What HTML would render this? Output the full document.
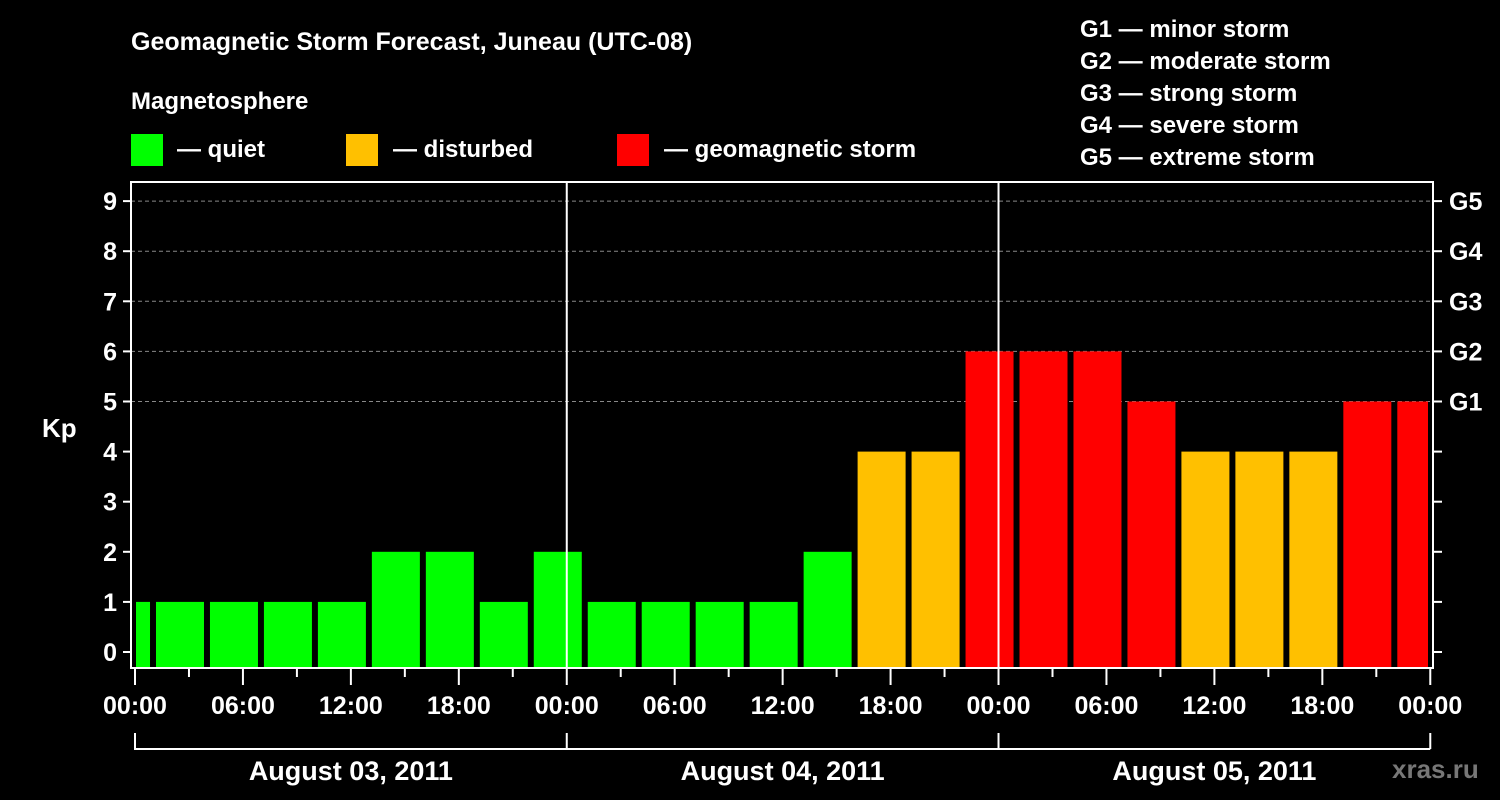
<!DOCTYPE html>
<html><head><meta charset="utf-8"><style>
html,body{margin:0;padding:0;background:#000;}
svg{display:block;font-family:"Liberation Sans",Arial,sans-serif;font-weight:bold;}
</style></head><body>
<svg id="chart" width="1500" height="800" viewBox="0 0 1500 800" xmlns="http://www.w3.org/2000/svg">
<rect width="1500" height="800" fill="#000"/>
<text x="131" y="50" fill="#fff" font-size="25">Geomagnetic Storm Forecast, Juneau (UTC-08)</text>
<text x="131" y="109" fill="#fff" font-size="24">Magnetosphere</text>
<g><rect x="131" y="134" width="32" height="32" fill="#00ff00"/><text x="177" y="157" fill="#fff" font-size="24">— quiet</text></g>
<g><rect x="346" y="134" width="32" height="32" fill="#ffc000"/><text x="393" y="157" fill="#fff" font-size="24">— disturbed</text></g>
<g><rect x="617" y="134" width="32" height="32" fill="#ff0000"/><text x="664" y="157" fill="#fff" font-size="24">— geomagnetic storm</text></g>
<g fill="#fff" font-size="24">
<text x="1080" y="37">G1 — minor storm</text>
<text x="1080" y="69">G2 — moderate storm</text>
<text x="1080" y="101">G3 — strong storm</text>
<text x="1080" y="133">G4 — severe storm</text>
<text x="1080" y="165">G5 — extreme storm</text>
</g>
<text x="42" y="437" fill="#fff" font-size="26">Kp</text>
<text x="1392" y="778" fill="#777" font-size="26">xras.ru</text>
<g id="grid"></g><g id="bars"></g><g id="axes"></g>
</svg>
<script>
const startHours = [-2,1,4,7,10,13,16,19,22,25,28,31,34,37,40,43,46,49,52,55,58,61,64,67,70];
const kpValues = [1,1,1,1,1,2,2,1,2,1,1,1,1,2,4,4,6,6,6,5,4,4,4,5,5];
const yTicks = [0,1,2,3,4,5,6,7,8,9];
const gLabels = ["G1","G2","G3","G4","G5"];
const gLevels = [5,6,7,8,9];
const hourTicks = ["00:00","06:00","12:00","18:00"];
const dayLabels = ["August 03, 2011","August 04, 2011","August 05, 2011"];

const NS="http://www.w3.org/2000/svg";
const L=131,R=1433,T=182,B=668,X0=135,PXH=17.99;
const xS=h=>X0+h*PXH;
const yS=v=>652-v*50.1;
function mk(tag,attrs,parent,text){const e=document.createElementNS(NS,tag);for(const k in attrs)e.setAttribute(k,attrs[k]);if(text!==undefined)e.textContent=text;parent.appendChild(e);return e;}
const grid=document.getElementById('grid'),bars=document.getElementById('bars'),axes=document.getElementById('axes');
// grid lines
gLevels.forEach(v=>{
 const ln=mk('line',{x1:L,x2:R,y1:yS(v),y2:yS(v),stroke:'#888','stroke-width':1,'stroke-dasharray':'4,3'},grid);
 
 
});
// bars
startHours.forEach((s,i)=>{
 const v=kpValues[i];
 let x1=Math.max(xS(s)+3,L+5), x2=Math.min(xS(s)+51,R-5);
 const col=v>=5?'#ff0000':(v>=3?'#ffc000':'#00ff00');
 const r=mk('rect',{x:x1,y:yS(v),width:x2-x1,height:B-1-yS(v),fill:col},bars);
 
 
});
// day separators
[24,48].forEach(h=>{
 const ln=mk('line',{x1:xS(h),x2:xS(h),y1:T,y2:B,stroke:'#fff','stroke-width':2},axes);
 
 
});
// frame
const fr=mk('rect',{x:L,y:T,width:R-L,height:B-T,fill:'none',stroke:'#fff','stroke-width':2},axes);


// y ticks
yTicks.forEach(v=>{
 mk('line',{x1:L-8,x2:L,y1:yS(v),y2:yS(v),stroke:'#fff','stroke-width':2},axes);
 mk('line',{x1:R,x2:R+9,y1:yS(v),y2:yS(v),stroke:'#fff','stroke-width':2},axes);
 const t=mk('text',{x:L-14,y:yS(v)+9,fill:'#fff','font-size':25,'text-anchor':'end'},axes,String(v));
 
 
});
gLevels.forEach((v,i)=>{
 const t=mk('text',{x:1449,y:yS(v)+9,fill:'#fff','font-size':25},axes,gLabels[i]);
 
 
});
// x ticks
for(let h=0;h<=72;h+=3){
 const major=h%6===0;
 mk('line',{x1:xS(h),x2:xS(h),y1:B,y2:B+(major?17:9),stroke:'#fff','stroke-width':2},axes);
 if(major){
  const t=mk('text',{x:xS(h),y:714,fill:'#fff','font-size':25,'text-anchor':'middle'},axes,hourTicks[(h/6)%4]);
  
  
 }
}
// day brackets
dayLabels.forEach((d,i)=>{
 const a=xS(i*24),b=xS(i*24+24);
 mk('path',{d:`M${a} 733V749H${b}`,stroke:'#fff','stroke-width':2,fill:'none'},axes);
 const t=mk('text',{x:(a+b)/2,y:780,fill:'#fff','font-size':27,'text-anchor':'middle'},axes,d);
 
 
});
mk('line',{x1:xS(72),x2:xS(72),y1:733,y2:749,stroke:'#fff','stroke-width':2},axes);
</script>
</body></html>
